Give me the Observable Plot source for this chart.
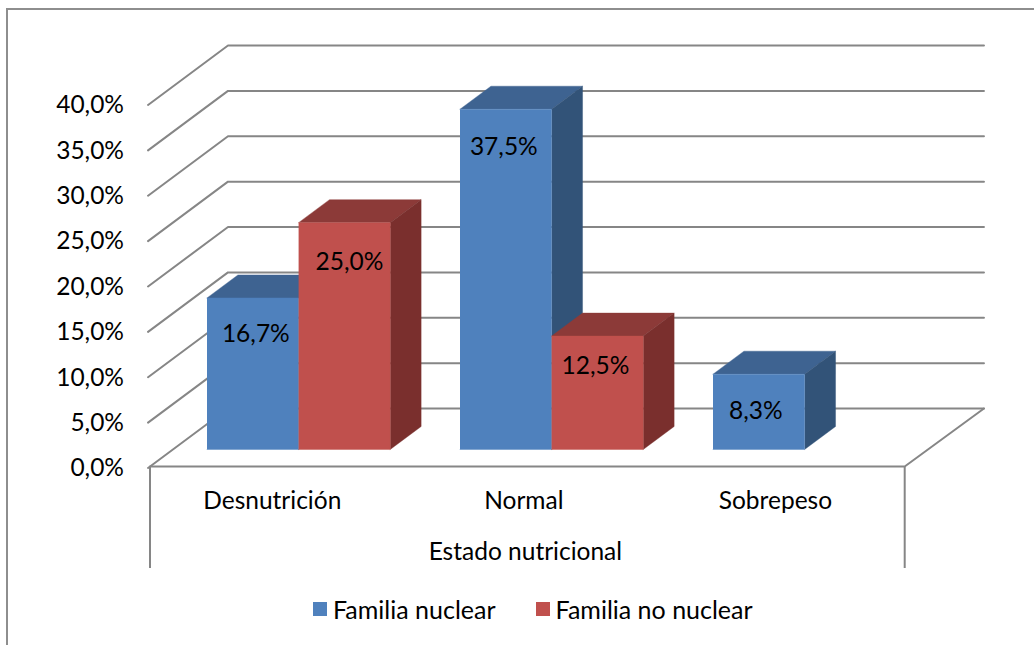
<!DOCTYPE html>
<html><head><meta charset="utf-8">
<script src="https://cdn.jsdelivr.net/npm/d3@7"></script>
<script src="https://cdn.jsdelivr.net/npm/@observablehq/plot@0.6"></script>
<style>
html,body{margin:0;padding:0;background:#fff;overflow:hidden;width:1034px;height:645px}
#frame{position:absolute;left:6px;top:8px;width:1100px;height:700px;border:2px solid #8e8e8e;box-sizing:border-box}
#chart{position:absolute;left:0;top:0}
#legend{position:absolute;left:313px;top:592px}
#legend span{margin-right:40px !important}
#legend svg{margin-right:6px !important}
</style></head><body>
<div id="frame"></div><div id="chart"></div><div id="legend"></div>
<script>
const categories = ["Desnutrición", "Normal", "Sobrepeso"];
const seriesNames = ["Familia nuclear", "Familia no nuclear"];
const nuclear = [16.7, 37.5, 8.3];
const noNuclear = [25.0, 12.5, null];
const yTicks = [0, 5, 10, 15, 20, 25, 30, 35, 40];
const axisTitle = "Estado nutricional";

const front = ["#4F81BD", "#C0504D"], top_ = ["#3E6391", "#8C3A38"], side = ["#325378", "#7A2F2D"];
const gray = "#868686";
const font = "Lato";
const fs = 24.5;

// oblique projection, in data units
const DX = 78 / 253, DY = 58 / 9.075;
const barW = 91.6 / 253, d0 = 17 / 58, d1 = d0 + 23 / 58, barShift = -0.003;
const planeEnd = 2.983, backEnd = 2.988, floorDrop = -11.24;
const P = (x, v, d) => ({x: x + d * DX, y: v + d * DY});
const poly = (pts, fill) => Plot.line(pts, {x: "x", y: "y", fill, stroke: fill, strokeWidth: 0.4});
const path = (pts) => Plot.line(pts, {x: "x", y: "y", stroke: gray, strokeWidth: 2});

const fmt = (v) => v.toFixed(1).replace(".", ",") + "%";
const bars = [];
categories.forEach((category, i) => {
  [nuclear[i], noNuclear[i]].forEach((value, s) => {
    if (value != null) bars.push({category, i, s, value, series: seriesNames[s], x1: i + 0.5 + barShift - barW + s * barW, x2: i + 0.5 + barShift + s * barW});
  });
});
const labelNudge = new Map([["0-0", [3, 36]], ["1-0", [-2, 38]], ["2-0", [-3, 37]], ["0-1", [5, 40]], ["1-1", [-2, 30]]]);

const marks = [
  ...yTicks.map((t) => path([P(0, t, -0.025), P(0, t, 1), P(backEnd, t, 1)])),
  path([P(0, 0, 0), P(planeEnd, 0, 0), P(backEnd, 0, 1)]),
  Plot.ruleX([0, planeEnd], {y1: 0, y2: floorDrop, stroke: gray, strokeWidth: 2}),
  Plot.axisY(yTicks, {tickSize: 0, tickPadding: 26, tickFormat: fmt, label: null, fontSize: fs, fill: "#000", fontFamily: font, dy: 2}),
  ...bars.flatMap((b) => [
    poly([P(b.x1, b.value, d0), P(b.x1, b.value, d1), P(b.x2, b.value, d1), P(b.x2, b.value, d0)], top_[b.s]),
    poly([P(b.x2, 0, d0), P(b.x2, 0, d1), P(b.x2, b.value, d1), P(b.x2, b.value, d0)], side[b.s]),
    poly([P(b.x1, 0, d0), P(b.x2, 0, d0), P(b.x2, b.value, d0), P(b.x1, b.value, d0)], front[b.s])
  ]),
  ...bars.map((b) => {
    const [dx, dy] = labelNudge.get(`${b.i}-${b.s}`);
    return Plot.text([b], {x: (b.x1 + b.x2) / 2 + d0 * DX, y: b.value + d0 * DY, text: (d) => fmt(d.value), dx, dy, fontSize: fs, fontFamily: font, fill: "#000"});
  }),
  Plot.text(categories, {x: (d, i) => (i + 0.5) * planeEnd / 3, y: 0, text: (d) => d, dx: -3.5, dy: 35, fontSize: fs, fontFamily: font, fill: "#000"}),
  Plot.text([axisTitle], {x: planeEnd / 2, y: 0, text: (d) => d, dx: -2, dy: 86, fontSize: fs, fontFamily: font, fill: "#000"})
];

const chart = Plot.plot({
  width: 1034, height: 585,
  marginLeft: 149.5, marginRight: 125.5, marginTop: 103, marginBottom: 119,
  x: {domain: [0, 3], axis: null},
  y: {domain: [0, 40], axis: null},
  style: {background: "transparent", overflow: "visible"},
  marks
});
document.getElementById("chart").append(chart);
document.getElementById("legend").append(Plot.legend({
  color: {domain: seriesNames, range: front},
  swatchSize: 14,
  style: {fontSize: "25px", fontFamily: font, color: "#000", background: "transparent"}
}));
</script></body></html>
